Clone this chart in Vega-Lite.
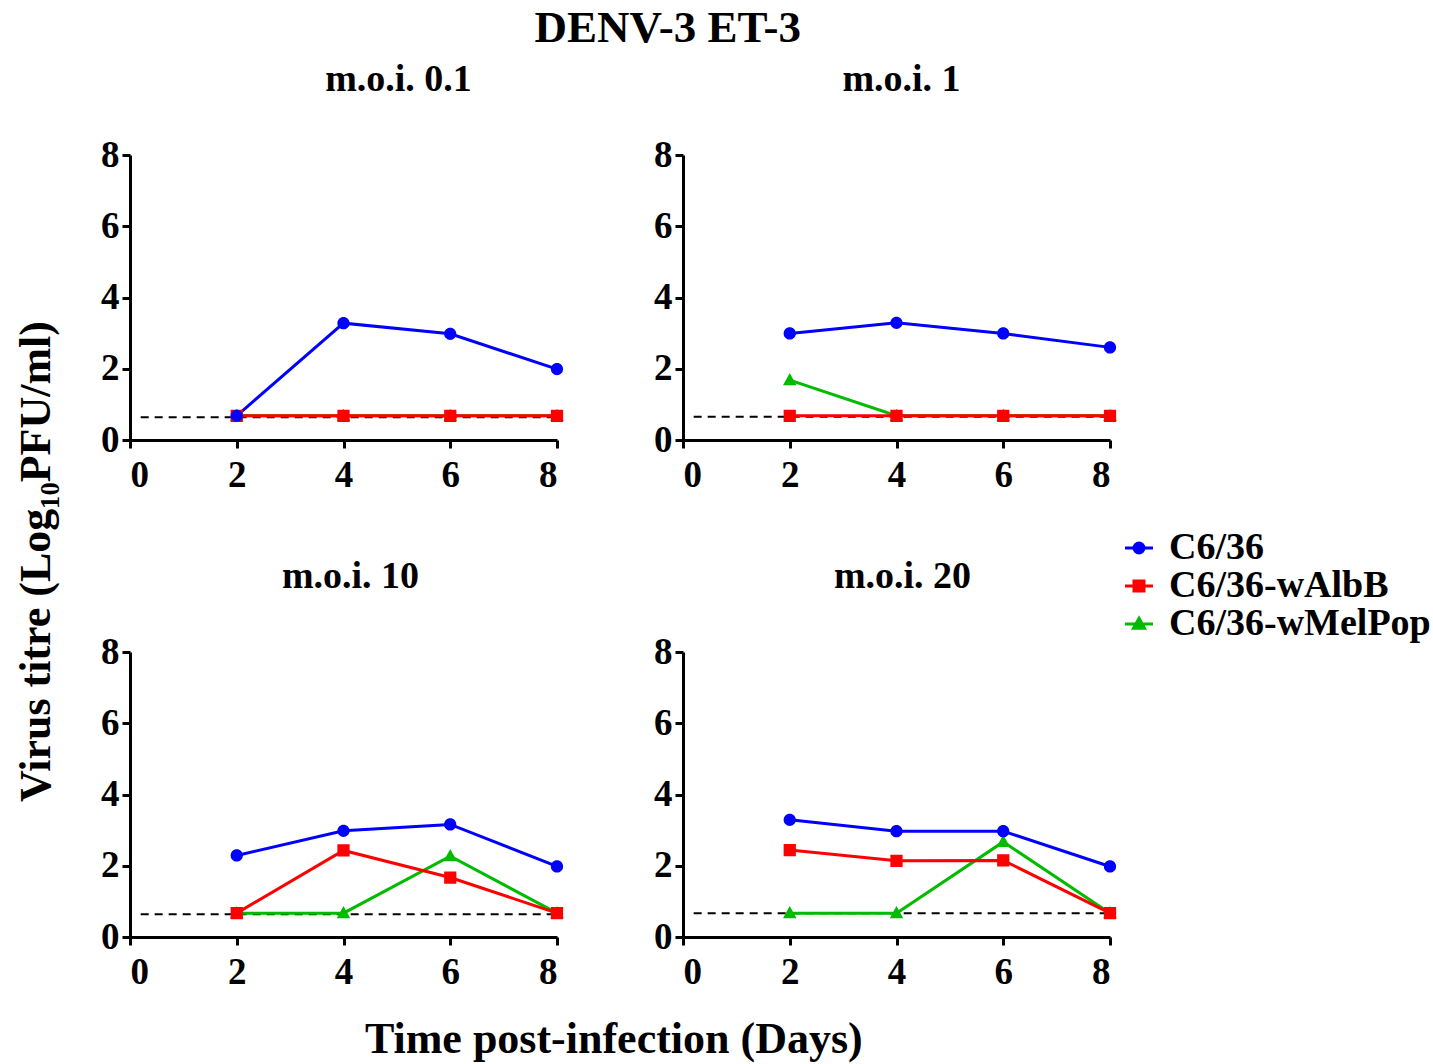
{
  "$schema": "https://vega.github.io/schema/vega-lite/v6.json",
  "background": "white",
  "padding": {"left": 14, "top": 6, "right": 0, "bottom": 5},
  "config": {
    "font": "Liberation Serif",
    "view": {"stroke": null},
    "axis": {
      "labelFont": "Liberation Serif", "labelFontSize": 37, "labelFontWeight": "bold", "labelColor": "black",
      "domainColor": "black", "domainWidth": 3, "tickColor": "black", "tickWidth": 3, "tickSize": 8,
      "grid": false, "labelPadding": 3, "title": null
    },
    "axisX": {"labelPadding": 9},
    "title": {"font": "Liberation Serif", "fontWeight": "bold", "color": "black", "fontSize": 38, "offset": 37},
    "legend": {
      "labelFont": "Liberation Serif", "labelFontSize": 38, "labelFontWeight": "bold", "labelColor": "black", "labelLimit": 400,
      "symbolSize": 100, "symbolStrokeWidth": 3, "rowPadding": 0, "labelOffset": 11, "padding": 0
    }
  },
  "datasets": {
    "obs": [
      {"panel": "m.o.i. 0.1", "cell": "C6/36-wMelPop", "day": 2, "titre": 0.68},
      {"panel": "m.o.i. 0.1", "cell": "C6/36-wMelPop", "day": 4, "titre": 0.68},
      {"panel": "m.o.i. 0.1", "cell": "C6/36-wMelPop", "day": 6, "titre": 0.68},
      {"panel": "m.o.i. 0.1", "cell": "C6/36-wMelPop", "day": 8, "titre": 0.68},
      {"panel": "m.o.i. 0.1", "cell": "C6/36-wAlbB", "day": 2, "titre": 0.68},
      {"panel": "m.o.i. 0.1", "cell": "C6/36-wAlbB", "day": 4, "titre": 0.68},
      {"panel": "m.o.i. 0.1", "cell": "C6/36-wAlbB", "day": 6, "titre": 0.68},
      {"panel": "m.o.i. 0.1", "cell": "C6/36-wAlbB", "day": 8, "titre": 0.68},
      {"panel": "m.o.i. 0.1", "cell": "C6/36", "day": 2, "titre": 0.68},
      {"panel": "m.o.i. 0.1", "cell": "C6/36", "day": 4, "titre": 3.28},
      {"panel": "m.o.i. 0.1", "cell": "C6/36", "day": 6, "titre": 2.98},
      {"panel": "m.o.i. 0.1", "cell": "C6/36", "day": 8, "titre": 1.99},

      {"panel": "m.o.i. 1", "cell": "C6/36-wMelPop", "day": 2, "titre": 1.68},
      {"panel": "m.o.i. 1", "cell": "C6/36-wMelPop", "day": 4, "titre": 0.68},
      {"panel": "m.o.i. 1", "cell": "C6/36-wMelPop", "day": 6, "titre": 0.68},
      {"panel": "m.o.i. 1", "cell": "C6/36-wMelPop", "day": 8, "titre": 0.68},
      {"panel": "m.o.i. 1", "cell": "C6/36-wAlbB", "day": 2, "titre": 0.68},
      {"panel": "m.o.i. 1", "cell": "C6/36-wAlbB", "day": 4, "titre": 0.68},
      {"panel": "m.o.i. 1", "cell": "C6/36-wAlbB", "day": 6, "titre": 0.68},
      {"panel": "m.o.i. 1", "cell": "C6/36-wAlbB", "day": 8, "titre": 0.68},
      {"panel": "m.o.i. 1", "cell": "C6/36", "day": 2, "titre": 2.99},
      {"panel": "m.o.i. 1", "cell": "C6/36", "day": 4, "titre": 3.29},
      {"panel": "m.o.i. 1", "cell": "C6/36", "day": 6, "titre": 2.99},
      {"panel": "m.o.i. 1", "cell": "C6/36", "day": 8, "titre": 2.6},

      {"panel": "m.o.i. 10", "cell": "C6/36-wMelPop", "day": 2, "titre": 0.67},
      {"panel": "m.o.i. 10", "cell": "C6/36-wMelPop", "day": 4, "titre": 0.67},
      {"panel": "m.o.i. 10", "cell": "C6/36-wMelPop", "day": 6, "titre": 2.27},
      {"panel": "m.o.i. 10", "cell": "C6/36-wMelPop", "day": 8, "titre": 0.67},
      {"panel": "m.o.i. 10", "cell": "C6/36-wAlbB", "day": 2, "titre": 0.67},
      {"panel": "m.o.i. 10", "cell": "C6/36-wAlbB", "day": 4, "titre": 2.43},
      {"panel": "m.o.i. 10", "cell": "C6/36-wAlbB", "day": 6, "titre": 1.67},
      {"panel": "m.o.i. 10", "cell": "C6/36-wAlbB", "day": 8, "titre": 0.67},
      {"panel": "m.o.i. 10", "cell": "C6/36", "day": 2, "titre": 2.29},
      {"panel": "m.o.i. 10", "cell": "C6/36", "day": 4, "titre": 2.98},
      {"panel": "m.o.i. 10", "cell": "C6/36", "day": 6, "titre": 3.16},
      {"panel": "m.o.i. 10", "cell": "C6/36", "day": 8, "titre": 1.98},

      {"panel": "m.o.i. 20", "cell": "C6/36-wMelPop", "day": 2, "titre": 0.67},
      {"panel": "m.o.i. 20", "cell": "C6/36-wMelPop", "day": 4, "titre": 0.67},
      {"panel": "m.o.i. 20", "cell": "C6/36-wMelPop", "day": 6, "titre": 2.67},
      {"panel": "m.o.i. 20", "cell": "C6/36-wMelPop", "day": 8, "titre": 0.67},
      {"panel": "m.o.i. 20", "cell": "C6/36-wAlbB", "day": 2, "titre": 2.44},
      {"panel": "m.o.i. 20", "cell": "C6/36-wAlbB", "day": 4, "titre": 2.14},
      {"panel": "m.o.i. 20", "cell": "C6/36-wAlbB", "day": 6, "titre": 2.15},
      {"panel": "m.o.i. 20", "cell": "C6/36-wAlbB", "day": 8, "titre": 0.67},
      {"panel": "m.o.i. 20", "cell": "C6/36", "day": 2, "titre": 3.29},
      {"panel": "m.o.i. 20", "cell": "C6/36", "day": 4, "titre": 2.97},
      {"panel": "m.o.i. 20", "cell": "C6/36", "day": 6, "titre": 2.97},
      {"panel": "m.o.i. 20", "cell": "C6/36", "day": 8, "titre": 1.98}
    ],
    "lod": [
      {"panel": "m.o.i. 0.1", "start": 0.2, "end": 8, "limit": 0.64},
      {"panel": "m.o.i. 1", "start": 0.2, "end": 8, "limit": 0.65},
      {"panel": "m.o.i. 10", "start": 0.2, "end": 8, "limit": 0.64},
      {"panel": "m.o.i. 20", "start": 0.2, "end": 8, "limit": 0.67}
    ]
  },
  "title": {"text": "DENV-3 ET-3", "fontSize": 45, "anchor": "middle", "offset": 10, "dx": -55},
  "vconcat": [
    {
      "title": {"text": "Virus titre (Log₁₀PFU/ml)", "orient": "left", "fontSize": 44, "offset": 42, "anchor": "middle"},
      "vconcat": [
        {
          "title": {"text": "Time post-infection (Days)", "orient": "bottom", "fontSize": 44, "offset": 28, "anchor": "middle"},
          "columns": 2,
          "bounds": "flush",
          "spacing": {"row": 212, "column": 126},
          "concat": [
            {
              "width": 427, "height": 285,
              "title": {"text": "m.o.i. 0.1", "dx": 55},
              "layer": [
                {"data": {"name": "lod"}, "transform": [{"filter": "datum.panel == 'm.o.i. 0.1'"}],
                 "mark": {"type": "rule", "strokeDash": [8, 6], "strokeWidth": 2, "color": "black"},
                 "encoding": {"x": {"field": "start", "type": "quantitative", "scale": {"domain": [0, 8], "nice": false}, "axis": {"values": [0, 2, 4, 6, 8]}}, "x2": {"field": "end"}, "y": {"field": "limit", "type": "quantitative", "scale": {"domain": [0, 8], "nice": false}, "axis": {"values": [0, 2, 4, 6, 8]}}}},
                {"data": {"name": "obs"}, "transform": [{"filter": "datum.panel == 'm.o.i. 0.1'"}],
                 "mark": {"type": "line", "strokeWidth": 3},
                 "encoding": {"x": {"field": "day", "type": "quantitative"}, "y": {"field": "titre", "type": "quantitative"}, "color": {"field": "cell", "type": "nominal", "title": null, "scale": {"domain": ["C6/36", "C6/36-wAlbB", "C6/36-wMelPop"], "range": ["#0000ff", "#ff0000", "#00bb00"]}, "legend": {"orient": "none", "legendX": 990, "legendY": 374, "title": null}}}},
                {"data": {"name": "obs"}, "transform": [{"filter": "datum.panel == 'm.o.i. 0.1'"}],
                 "mark": {"type": "point", "filled": true, "opacity": 1, "size": 150},
                 "encoding": {"x": {"field": "day", "type": "quantitative"}, "y": {"field": "titre", "type": "quantitative"}, "fill": {"field": "cell", "type": "nominal", "title": null, "scale": {"domain": ["C6/36", "C6/36-wAlbB", "C6/36-wMelPop"], "range": ["#0000ff", "#ff0000", "#00bb00"]}, "legend": {"orient": "none", "legendX": 990, "legendY": 374, "title": null}}, "shape": {"field": "cell", "type": "nominal", "title": null, "scale": {"domain": ["C6/36", "C6/36-wAlbB", "C6/36-wMelPop"], "range": ["M-2.8,0H2.8M1,0A1,1,0,1,1,-1,0A1,1,0,1,1,1,0Z", "M-2.8,0H2.8M-1,-1H1V1H-1Z", "M-2.8,0H2.8M0,-1.15L1.1,0.85H-1.1Z"]}, "legend": {"orient": "none", "legendX": 990, "legendY": 374, "title": null}}}}
              ]
            },
            {
              "width": 427, "height": 285,
              "title": {"text": "m.o.i. 1", "dx": 5},
              "layer": [
                {"data": {"name": "lod"}, "transform": [{"filter": "datum.panel == 'm.o.i. 1'"}],
                 "mark": {"type": "rule", "strokeDash": [8, 6], "strokeWidth": 2, "color": "black"},
                 "encoding": {"x": {"field": "start", "type": "quantitative", "scale": {"domain": [0, 8], "nice": false}, "axis": {"values": [0, 2, 4, 6, 8]}}, "x2": {"field": "end"}, "y": {"field": "limit", "type": "quantitative", "scale": {"domain": [0, 8], "nice": false}, "axis": {"values": [0, 2, 4, 6, 8]}}}},
                {"data": {"name": "obs"}, "transform": [{"filter": "datum.panel == 'm.o.i. 1'"}],
                 "mark": {"type": "line", "strokeWidth": 3},
                 "encoding": {"x": {"field": "day", "type": "quantitative"}, "y": {"field": "titre", "type": "quantitative"}, "color": {"field": "cell", "type": "nominal", "title": null, "scale": {"domain": ["C6/36", "C6/36-wAlbB", "C6/36-wMelPop"], "range": ["#0000ff", "#ff0000", "#00bb00"]}}}},
                {"data": {"name": "obs"}, "transform": [{"filter": "datum.panel == 'm.o.i. 1'"}],
                 "mark": {"type": "point", "filled": true, "opacity": 1, "size": 150},
                 "encoding": {"x": {"field": "day", "type": "quantitative"}, "y": {"field": "titre", "type": "quantitative"}, "fill": {"field": "cell", "type": "nominal", "title": null, "scale": {"domain": ["C6/36", "C6/36-wAlbB", "C6/36-wMelPop"], "range": ["#0000ff", "#ff0000", "#00bb00"]}}, "shape": {"field": "cell", "type": "nominal", "title": null, "scale": {"domain": ["C6/36", "C6/36-wAlbB", "C6/36-wMelPop"], "range": ["M-2.8,0H2.8M1,0A1,1,0,1,1,-1,0A1,1,0,1,1,1,0Z", "M-2.8,0H2.8M-1,-1H1V1H-1Z", "M-2.8,0H2.8M0,-1.15L1.1,0.85H-1.1Z"]}}}}
              ]
            },
            {
              "width": 427, "height": 285,
              "title": {"text": "m.o.i. 10", "dx": 7},
              "layer": [
                {"data": {"name": "lod"}, "transform": [{"filter": "datum.panel == 'm.o.i. 10'"}],
                 "mark": {"type": "rule", "strokeDash": [8, 6], "strokeWidth": 2, "color": "black"},
                 "encoding": {"x": {"field": "start", "type": "quantitative", "scale": {"domain": [0, 8], "nice": false}, "axis": {"values": [0, 2, 4, 6, 8]}}, "x2": {"field": "end"}, "y": {"field": "limit", "type": "quantitative", "scale": {"domain": [0, 8], "nice": false}, "axis": {"values": [0, 2, 4, 6, 8]}}}},
                {"data": {"name": "obs"}, "transform": [{"filter": "datum.panel == 'm.o.i. 10'"}],
                 "mark": {"type": "line", "strokeWidth": 3},
                 "encoding": {"x": {"field": "day", "type": "quantitative"}, "y": {"field": "titre", "type": "quantitative"}, "color": {"field": "cell", "type": "nominal", "title": null, "scale": {"domain": ["C6/36", "C6/36-wAlbB", "C6/36-wMelPop"], "range": ["#0000ff", "#ff0000", "#00bb00"]}}}},
                {"data": {"name": "obs"}, "transform": [{"filter": "datum.panel == 'm.o.i. 10'"}],
                 "mark": {"type": "point", "filled": true, "opacity": 1, "size": 150},
                 "encoding": {"x": {"field": "day", "type": "quantitative"}, "y": {"field": "titre", "type": "quantitative"}, "fill": {"field": "cell", "type": "nominal", "title": null, "scale": {"domain": ["C6/36", "C6/36-wAlbB", "C6/36-wMelPop"], "range": ["#0000ff", "#ff0000", "#00bb00"]}}, "shape": {"field": "cell", "type": "nominal", "title": null, "scale": {"domain": ["C6/36", "C6/36-wAlbB", "C6/36-wMelPop"], "range": ["M-2.8,0H2.8M1,0A1,1,0,1,1,-1,0A1,1,0,1,1,1,0Z", "M-2.8,0H2.8M-1,-1H1V1H-1Z", "M-2.8,0H2.8M0,-1.15L1.1,0.85H-1.1Z"]}}}}
              ]
            },
            {
              "width": 427, "height": 285,
              "title": {"text": "m.o.i. 20", "dx": 6},
              "layer": [
                {"data": {"name": "lod"}, "transform": [{"filter": "datum.panel == 'm.o.i. 20'"}],
                 "mark": {"type": "rule", "strokeDash": [8, 6], "strokeWidth": 2, "color": "black"},
                 "encoding": {"x": {"field": "start", "type": "quantitative", "scale": {"domain": [0, 8], "nice": false}, "axis": {"values": [0, 2, 4, 6, 8]}}, "x2": {"field": "end"}, "y": {"field": "limit", "type": "quantitative", "scale": {"domain": [0, 8], "nice": false}, "axis": {"values": [0, 2, 4, 6, 8]}}}},
                {"data": {"name": "obs"}, "transform": [{"filter": "datum.panel == 'm.o.i. 20'"}],
                 "mark": {"type": "line", "strokeWidth": 3},
                 "encoding": {"x": {"field": "day", "type": "quantitative"}, "y": {"field": "titre", "type": "quantitative"}, "color": {"field": "cell", "type": "nominal", "title": null, "scale": {"domain": ["C6/36", "C6/36-wAlbB", "C6/36-wMelPop"], "range": ["#0000ff", "#ff0000", "#00bb00"]}}}},
                {"data": {"name": "obs"}, "transform": [{"filter": "datum.panel == 'm.o.i. 20'"}],
                 "mark": {"type": "point", "filled": true, "opacity": 1, "size": 150},
                 "encoding": {"x": {"field": "day", "type": "quantitative"}, "y": {"field": "titre", "type": "quantitative"}, "fill": {"field": "cell", "type": "nominal", "title": null, "scale": {"domain": ["C6/36", "C6/36-wAlbB", "C6/36-wMelPop"], "range": ["#0000ff", "#ff0000", "#00bb00"]}}, "shape": {"field": "cell", "type": "nominal", "title": null, "scale": {"domain": ["C6/36", "C6/36-wAlbB", "C6/36-wMelPop"], "range": ["M-2.8,0H2.8M1,0A1,1,0,1,1,-1,0A1,1,0,1,1,1,0Z", "M-2.8,0H2.8M-1,-1H1V1H-1Z", "M-2.8,0H2.8M0,-1.15L1.1,0.85H-1.1Z"]}}}}
              ]
            }
          ]
        }
      ]
    }
  ]
}
